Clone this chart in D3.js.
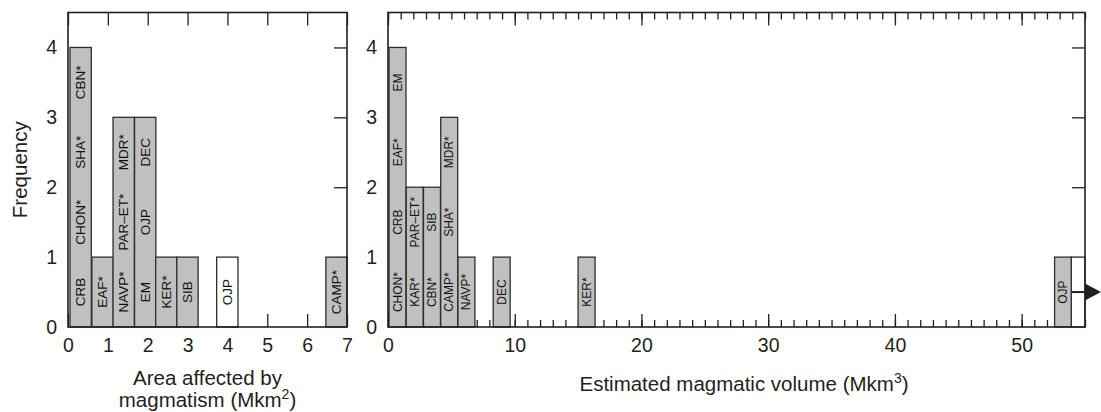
<!DOCTYPE html>
<html>
<head>
<meta charset="utf-8">
<script src="https://cdn.jsdelivr.net/npm/d3@7"></script>
<style>
  body { margin: 0; background: #fff; }
  svg { display: block; font-family: "Liberation Sans", Arial, Helvetica, sans-serif; }
</style>
</head>
<body>
<div id="graph"></div>
<script>
// left panel: area affected by magmatism (Mkm2)
const areaBinStart = [0.05, 0.6, 1.13, 1.67, 2.2, 2.73, 3.73, 6.47];
const areaBinWidth = 0.535;
const areaLabels = [
  ["CRB", "CHON*", "SHA*", "CBN*"],
  ["EAF*"],
  ["NAVP*", "PAR\u2013ET*", "MDR*"],
  ["EM", "OJP", "DEC"],
  ["KER*"],
  ["SIB"],
  ["OJP"],
  ["CAMP*"]
];
const areaOpen = [false, false, false, false, false, false, true, false];
const areaTicks = [0, 1, 2, 3, 4, 5, 6, 7];

// right panel: estimated magmatic volume (Mkm3)
const volBinStart = [0.08, 1.44, 2.8, 4.16, 5.52, 8.3, 15.0, 52.6, 53.92];
const volBinWidth = 1.34;
const volLabels = [
  ["CHON*", "CRB", "EAF*", "EM"],
  ["KAR*", "PAR\u2013ET*"],
  ["CBN*", "SIB"],
  ["CAMP*", "SHA*", "MDR*"],
  ["NAVP*"],
  ["DEC"],
  ["KER*"],
  ["OJP"],
  [""]
];
const volOpen = [false, false, false, false, false, false, false, false, true];
const volTicks = [0, 10, 20, 30, 40, 50];

const freqTicks = [0, 1, 2, 3, 4];

const width = 1101, height = 412;
const yTop = 12.5, yBottom = 327;
const ink = "#231f20";

const svg = d3.select("#graph").append("svg")
  .attr("width", width)
  .attr("height", height);

const y = d3.scaleLinear().domain([0, 4.5]).range([yBottom, yTop]);

const drawPanel = (cfg) => {
  const x = d3.scaleLinear().domain(cfg.domain).range(cfg.range);
  const g = svg.append("g");
  const x0 = cfg.range[0], x1 = cfg.range[1];

  // inward ticks on top and bottom
  const addX = (vals, size) => {
    g.append("g")
      .attr("transform", `translate(0,${yBottom})`)
      .call(d3.axisBottom(x).tickValues(vals).tickSize(-size).tickFormat(""))
      .call(s => s.select(".domain").remove());
    g.append("g")
      .attr("transform", `translate(0,${yTop})`)
      .call(d3.axisTop(x).tickValues(vals).tickSize(-size).tickFormat(""))
      .call(s => s.select(".domain").remove());
  };
  if (cfg.minor) addX(cfg.minor, 7);
  addX(cfg.ticks, 13);

  // tick labels
  g.append("g")
    .attr("transform", `translate(0,${yBottom})`)
    .call(d3.axisBottom(x).tickValues(cfg.ticks).tickSize(0).tickPadding(11).tickFormat(d3.format("d")))
    .call(s => s.select(".domain").remove())
    .selectAll("text").attr("font-size", 19.5).attr("font-family", null).attr("fill", ink);

  g.append("g")
    .attr("transform", `translate(${x0},0)`)
    .call(d3.axisLeft(y).tickValues(freqTicks).tickSize(0).tickPadding(11).tickFormat(d3.format("d")))
    .call(s => s.select(".domain").remove())
    .selectAll("text").attr("font-size", 19.5).attr("font-family", null).attr("fill", ink);

  // right side inward ticks
  g.append("g")
    .attr("transform", `translate(${x1},0)`)
    .call(d3.axisRight(y).tickValues([1, 2, 3, 4]).tickSize(-13).tickFormat(""))
    .call(s => s.select(".domain").remove());

  g.selectAll(".tick line").attr("stroke", ink).attr("stroke-width", 1.3);

  // bars: one rectangle per bin, height = number of named cases
  cfg.starts.forEach((s, i) => {
    const labels = cfg.labels[i];
    const bx = x(s);
    const bw = Math.min(x(s + cfg.binWidth), x1) - bx;
    g.append("rect")
      .attr("x", bx)
      .attr("y", y(labels.length))
      .attr("width", bw)
      .attr("height", y(0) - y(labels.length))
      .attr("fill", cfg.open[i] ? "#fff" : "#c0c0c0")
      .attr("stroke", "#2e2e2e")
      .attr("stroke-width", 1.3);
    labels.forEach((lab, k) => {
      if (!lab) return;
      const cx = bx + bw / 2, cy = y(k + 0.5);
      g.append("text")
        .attr("transform", `translate(${cx},${cy}) rotate(-90)`)
        .attr("text-anchor", "middle")
        .attr("dominant-baseline", "central")
        .attr("font-size", cfg.labelSize(bw))
        .attr("fill", "#111")
        .text(lab);
    });
  });

  // frame
  g.append("rect")
    .attr("x", x0).attr("y", yTop)
    .attr("width", x1 - x0).attr("height", yBottom - yTop)
    .attr("fill", "none")
    .attr("stroke", ink)
    .attr("stroke-width", 1.6);

  return x;
};

const xa = drawPanel({
  domain: [0, 7], range: [68, 347],
  ticks: areaTicks,
  starts: areaBinStart, binWidth: areaBinWidth,
  labels: areaLabels, open: areaOpen,
  labelSize: () => 13.5
});

const xv = drawPanel({
  domain: [0, 55], range: [388, 1085],
  ticks: volTicks, minor: d3.range(0, 56, 1),
  starts: volBinStart, binWidth: volBinWidth,
  labels: volLabels, open: volOpen,
  labelSize: (bw) => bw < 17 ? 12 : 13.5
});

// arrow: OJP runs off the volume axis
const ay = y(0.5);
const ax0 = xv(volBinStart[7] + volBinWidth);
const ax1 = width;
svg.append("line")
  .attr("x1", ax0).attr("y1", ay)
  .attr("x2", ax1 - 12).attr("y2", ay)
  .attr("stroke", ink).attr("stroke-width", 2);
svg.append("path")
  .attr("d", `M${ax1 - 16},${ay - 8.5}L${ax1},${ay}L${ax1 - 16},${ay + 8.5}Z`)
  .attr("fill", ink);

// axis titles
svg.append("text")
  .attr("transform", `translate(27,${(yTop + yBottom) / 2}) rotate(-90)`)
  .attr("text-anchor", "middle")
  .attr("font-size", 20.5)
  .attr("fill", ink)
  .text("Frequency");

const t1 = svg.append("text")
  .attr("text-anchor", "middle")
  .attr("font-size", 20.5)
  .attr("fill", ink);
t1.append("tspan").attr("x", 207.5).attr("y", 385).text("Area affected by");
const t1b = t1.append("tspan").attr("x", 207.5).attr("y", 407);
t1b.append("tspan").text("magmatism (Mkm");
t1b.append("tspan").attr("dy", -8).attr("font-size", 14).text("2");
t1b.append("tspan").attr("dy", 8).text(")");

const t2 = svg.append("text")
  .attr("x", 744).attr("y", 391)
  .attr("text-anchor", "middle")
  .attr("font-size", 20.5)
  .attr("fill", ink);
t2.append("tspan").text("Estimated magmatic volume (Mkm");
t2.append("tspan").attr("dy", -8).attr("font-size", 14).text("3");
t2.append("tspan").attr("dy", 8).text(")");
</script>
</body>
</html>
